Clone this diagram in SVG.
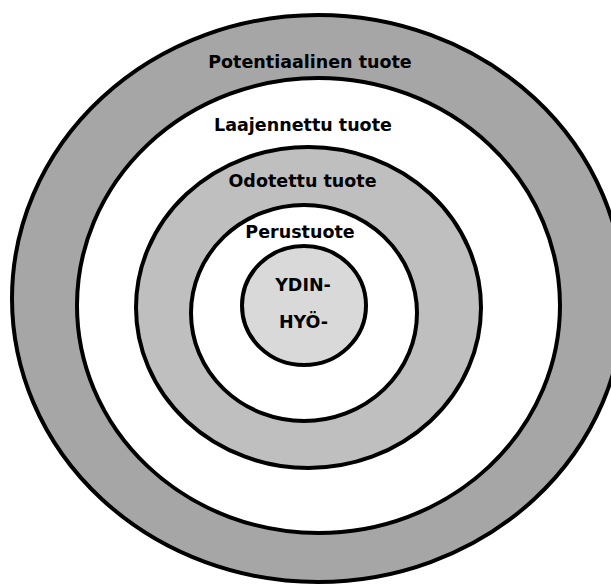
<svg xmlns="http://www.w3.org/2000/svg" width="611" height="585" viewBox="0 0 611 585">
<style>
.ring{stroke:#000;stroke-width:4}
.lbl{font-family:"DejaVu Sans","Liberation Sans",sans-serif;font-weight:bold;font-size:17.5px;fill:#000;text-anchor:middle}
</style>
<rect width="611" height="585" fill="#fff"/>
<g id="potentiaalinen">
<ellipse class="ring" cx="318" cy="298.5" rx="306" ry="283.5" fill="#a6a6a6"/>
<text class="lbl" x="310" y="68">Potentiaalinen tuote</text>
</g>
<g id="laajennettu">
<ellipse class="ring" cx="318.5" cy="305.5" rx="241.5" ry="227.5" fill="#fff"/>
<text class="lbl" x="303" y="131">Laajennettu tuote</text>
</g>
<g id="odotettu">
<ellipse class="ring" cx="308.5" cy="307.5" rx="172.5" ry="160.5" fill="#bfbfbf"/>
<text class="lbl" x="302.5" y="187">Odotettu tuote</text>
</g>
<g id="perustuote">
<ellipse class="ring" cx="304" cy="313" rx="113" ry="108" fill="#fff"/>
<text class="lbl" x="300" y="238">Perustuote</text>
</g>
<g id="ydinhyoty">
<ellipse class="ring" cx="304" cy="305.5" rx="62" ry="59.5" fill="#d9d9d9"/>
<text class="lbl" x="303" y="291">YDIN-</text>
<text class="lbl" x="303.5" y="327.5">HYÖ-</text>
</g>
</svg>
